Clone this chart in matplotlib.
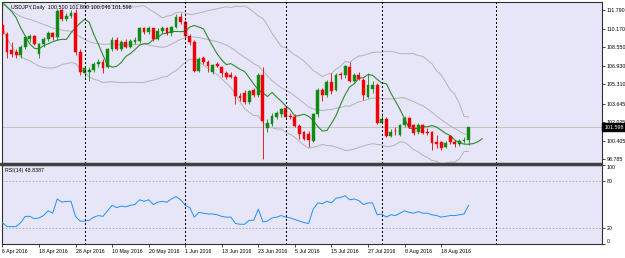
import numpy as np
import pandas as pd
import matplotlib
matplotlib.use("Agg")
import matplotlib.pyplot as plt
from matplotlib.patches import Rectangle

plt.rcParams['font.family'] = ['Liberation Sans', 'DejaVu Sans']

# closes before the first visible bar, only used to warm up the indicators
pre_close = [113.3, 113.2, 113.8, 113.8, 113.1, 112.6, 111.5, 111.5, 111.9, 112.3,
             112.4, 113.0, 113.0, 113.4, 112.4, 112.4, 112.5, 111.6, 111.4, 110.4]

# daily bars 6 Apr 2016 .. 26 Aug 2016
opens = [110.5, 109.7, 108.3, 108.1, 107.9, 108.6, 109.3, 109.5, 108.0, 108.8,
         109.3, 109.8, 109.4, 111.8, 111.0, 111.3, 111.5, 108.1, 106.3, 106.4,
         106.6, 107.1, 107.3, 106.8, 108.4, 109.2, 108.4, 109.0, 108.6, 109.0,
         109.1, 110.2, 109.9, 110.2, 109.3, 110.0, 110.2, 109.8, 110.3, 111.2,
         110.7, 109.5, 109.0, 106.5, 107.6, 107.3, 106.4, 107.1, 106.8, 106.3,
         106.1, 106.0, 104.3, 104.6, 103.8, 104.8, 104.4, 106.1, 101.5, 101.9,
         102.5, 102.7, 103.3, 102.55, 102.5, 101.7, 101.2, 101.0, 100.4, 102.7,
         104.8, 104.4, 105.5, 104.8, 106.25, 106.1, 106.8, 105.6, 106.1, 105.7,
         104.2, 104.9, 105.3, 102.0, 102.3, 100.8, 101.3, 100.9, 101.8, 102.4,
         101.8, 101.2, 101.8, 101.2, 101.2, 100.3, 100.3, 99.9, 100.8, 100.3,
         100.15, 100.4, 100.5]
highs = [110.7, 109.9, 109.0, 108.4, 108.7, 109.5, 109.7, 109.6, 108.9, 109.4,
         110.0, 109.9, 111.9, 111.9, 111.5, 111.8, 111.9, 108.4, 106.9, 106.8,
         107.3, 107.5, 107.5, 108.5, 109.4, 109.4, 109.2, 109.3, 109.3, 109.4,
         110.3, 110.3, 110.4, 110.2, 110.2, 110.4, 110.3, 110.4, 111.4, 111.5,
         110.9, 109.7, 109.2, 107.7, 107.8, 107.4, 107.1, 107.3, 106.9, 106.5,
         106.4, 106.1, 104.6, 104.8, 104.8, 105.0, 106.3, 106.8, 102.3, 102.8,
         103.0, 103.3, 103.4, 102.8, 102.7, 101.9, 101.3, 101.3, 102.8, 105.0,
         105.0, 105.7, 106.3, 106.3, 106.4, 107.0, 107.3, 106.3, 106.4, 105.9,
         106.3, 105.6, 105.4, 102.8, 102.5, 101.4, 101.6, 101.9, 102.6, 102.5,
         101.9, 102.0, 101.9, 101.5, 101.3, 100.9, 100.4, 100.4, 100.9, 100.5,
         100.6, 100.7, 101.6]
lows = [109.4, 107.6, 107.7, 107.6, 107.6, 108.4, 109.0, 108.7, 107.6, 108.6,
        109.1, 109.2, 109.2, 110.8, 110.8, 111.1, 107.9, 106.1, 106.0, 105.6,
        106.4, 106.8, 106.3, 106.7, 108.2, 108.3, 108.2, 108.5, 108.5, 108.8,
        108.9, 109.7, 109.7, 109.1, 109.2, 109.8, 109.6, 109.5, 110.2, 110.6,
        109.4, 108.7, 106.4, 106.4, 107.1, 106.4, 106.2, 106.8, 106.0, 105.8,
        105.9, 103.6, 103.9, 103.6, 103.6, 104.2, 104.2, 98.8, 101.2, 101.7,
        102.3, 102.5, 102.3, 102.3, 101.6, 100.6, 100.5, 99.9, 100.3, 102.5,
        103.9, 104.2, 104.5, 104.7, 105.8, 105.9, 105.5, 105.5, 105.7, 104.0,
        104.1, 104.6, 101.9, 101.9, 100.7, 100.7, 100.9, 100.8, 101.6, 101.5,
        100.9, 101.0, 101.0, 100.9, 99.6, 99.8, 99.6, 99.8, 100.1, 99.9,
        100.0, 100.2, 100.046]
closes = [109.7, 108.1, 108.0, 107.9, 108.6, 109.4, 109.5, 108.8, 108.8, 109.3,
          109.8, 109.4, 111.7, 111.0, 111.3, 111.5, 108.1, 106.4, 106.7, 106.6,
          107.1, 107.3, 106.7, 108.4, 109.2, 108.4, 109.0, 108.6, 109.1, 109.2,
          110.2, 109.9, 110.2, 109.3, 110.0, 110.2, 109.8, 110.3, 111.2, 110.7,
          109.5, 109.0, 106.5, 107.5, 107.3, 106.9, 107.0, 106.9, 106.3, 106.0,
          106.0, 104.3, 104.1, 103.8, 104.7, 104.4, 106.1, 102.1, 102.0, 102.6,
          102.8, 103.2, 102.5, 102.5, 101.7, 101.0, 100.6, 100.5, 102.7, 104.8,
          104.4, 105.5, 104.7, 106.1, 106.15, 106.9, 105.6, 106.1, 105.8, 104.4,
          105.3, 105.3, 102.0, 102.3, 100.8, 101.2, 101.25, 101.8, 102.4, 101.6,
          101.1, 101.8, 101.1, 101.1, 100.2, 100.1, 99.8, 100.2, 100.3, 100.15,
          100.4, 100.5, 101.598]

rsi = [27, 22, 22, 22, 27, 35, 35, 32, 33, 36, 42, 39, 57, 53, 54, 54, 35, 29, 29, 30,
       34, 36, 35, 42, 49, 46, 48, 47, 49, 50, 56, 54, 56, 50, 53, 54, 53, 57, 60, 56,
       49, 46, 34, 40, 39, 38, 38, 37, 35, 34, 34, 26, 25, 25, 30, 30, 44, 28, 29, 33,
       34, 36, 34, 33, 31, 29, 27, 26, 44, 52, 51, 54, 52, 58, 59, 61, 56, 57, 55, 50,
       52, 52, 37, 38, 34, 37, 36, 39, 42, 40, 39, 41, 39, 39, 37, 36, 34, 35, 36, 36,
       37, 38, 48.8387]

dates = pd.bdate_range("2016-04-06", periods=len(closes))
price_ticks = [111.790, 110.170, 108.550, 106.930, 105.310, 103.645, 102.025, 100.405, 98.785]
rsi_ticks = [100, 80, 20, 0]
future_sep = 108   # vertical line drawn in the empty area on the right

header = "USDJPY,Daily  100.500 101.600 100.046 101.598"

BG = '#E6E6F8'
UP = '#118A11'
DN = '#F00000'

W, H = 625, 258
fig = plt.figure(figsize=(W / 100, H / 100), dpi=100, facecolor='white')


def px_axes(l, t, r, b):
    return fig.add_axes([l / W, 1 - b / H, (r - l) / W, (b - t) / H])


ax = px_axes(2, 2, 602, 163)
ax2 = px_axes(2, 165, 602, 244)

idx = np.arange(len(closes))
x0, step = 2.4, 4.57
xlim = ((2 - x0) / step, (602 - x0) / step)

# indicators
allc = pd.Series(pre_close + closes)
npre = len(pre_close)
mid = allc.rolling(20).mean().values[npre:]
sd = allc.rolling(20).std(ddof=0).values[npre:]
ma5 = allc.rolling(5).mean().values

for a in (ax, ax2):
    a.set_facecolor(BG)
    a.set_xlim(*xlim)
    for s in a.spines.values():
        s.set_color('#303030')
        s.set_linewidth(0.8)

# bollinger bands
for band in (mid + 2 * sd, mid, mid - 2 * sd):
    ax.plot(idx, band, color='#B4B4B4', lw=0.7, zorder=2)

# 5 period MA shifted 3 bars forward
ma_x = np.arange(len(allc)) - npre + 3
ax.plot(ma_x, ma5, color='#2E8B2E', lw=0.8, zorder=3)

# candles
o = np.array(opens); h = np.array(highs); l = np.array(lows); c = np.array(closes)
col = np.where(c >= o, UP, DN)
ax.vlines(idx, l, h, colors=col, lw=0.6, zorder=4)
body = np.maximum(np.abs(c - o), 0.03)
ax.bar(idx, body, bottom=np.minimum(o, c), width=0.62, color=col, edgecolor=col,
       lw=0.3, zorder=5)

# bid line
ax.axhline(closes[-1], color='#C4C4C4', lw=0.8, zorder=1)

ax.set_ylim(98.48, 112.48)
ax.yaxis.tick_right()
ax.set_yticks(price_ticks)
ax.set_yticklabels([f"{v:.3f}" for v in price_ticks])
ax.tick_params(axis='y', length=2, width=0.5, pad=1.5, labelsize=3.8, colors='black')
ax.set_xticks([])

# rsi panel
ax2.plot(idx, rsi, color='#1E90FF', lw=0.7, zorder=3)
for lvl in (80, 20):
    ax2.axhline(lvl, color='#A8A8A8', lw=0.6, ls=(0, (2, 2)), zorder=1)
ax2.set_ylim(0, 100)
ax2.yaxis.tick_right()
ax2.set_yticks(rsi_ticks)
ax2.set_yticklabels([str(v) for v in rsi_ticks])
ax2.tick_params(axis='y', length=2, width=0.5, pad=1.5, labelsize=3.8, colors='black')
tl = ax2.get_yticklabels()
tl[0].set_va('top')
tl[-1].set_va('bottom')

tick_idx = idx[::8]
ax2.set_xticks(tick_idx)
ax2.set_xticklabels([f"{d.day} {d.strftime('%b %Y')}" for d in dates[tick_idx]], ha='left')
ax2.tick_params(axis='x', length=2.5, width=0.5, pad=1.0, labelsize=3.8, colors='black')

# month separators (dotted, 1px on / 2px off)
month_first = [i for i in range(1, len(dates)) if dates[i].month != dates[i - 1].month]
for a in (ax, ax2):
    for i in month_first + [future_sep]:
        a.axvline(i, color='black', lw=0.75, ls=(0, (1, 2)), antialiased=False, zorder=6)

# panel divider
fig.patches.append(Rectangle((0, 1 - 165 / H), 602 / W, 2 / H, transform=fig.transFigure,
                             color='#404040', zorder=10))

# texts
fig.text(11 / W, 1 - 8 / H, header, fontsize=3.9, va='center', ha='left', color='black')
fig.text(5 / W, 1 - 170.5 / H, f"RSI(14) {rsi[-1]:.4f}", fontsize=3.8, va='center',
         ha='left', color='black')

# price tag
y_tag = ax.transData.transform((0, closes[-1]))[1] / (H)
fig.patches.append(Rectangle((602 / W, y_tag - 3.8 / H), 23 / W, 7.6 / H,
                             transform=fig.transFigure, color='black', zorder=10))
fig.text(605 / W, y_tag, f"{closes[-1]:.3f}", fontsize=3.8, color='white', va='center',
         ha='left', zorder=11)

fig.savefig("out.png", dpi=100, facecolor='white')
